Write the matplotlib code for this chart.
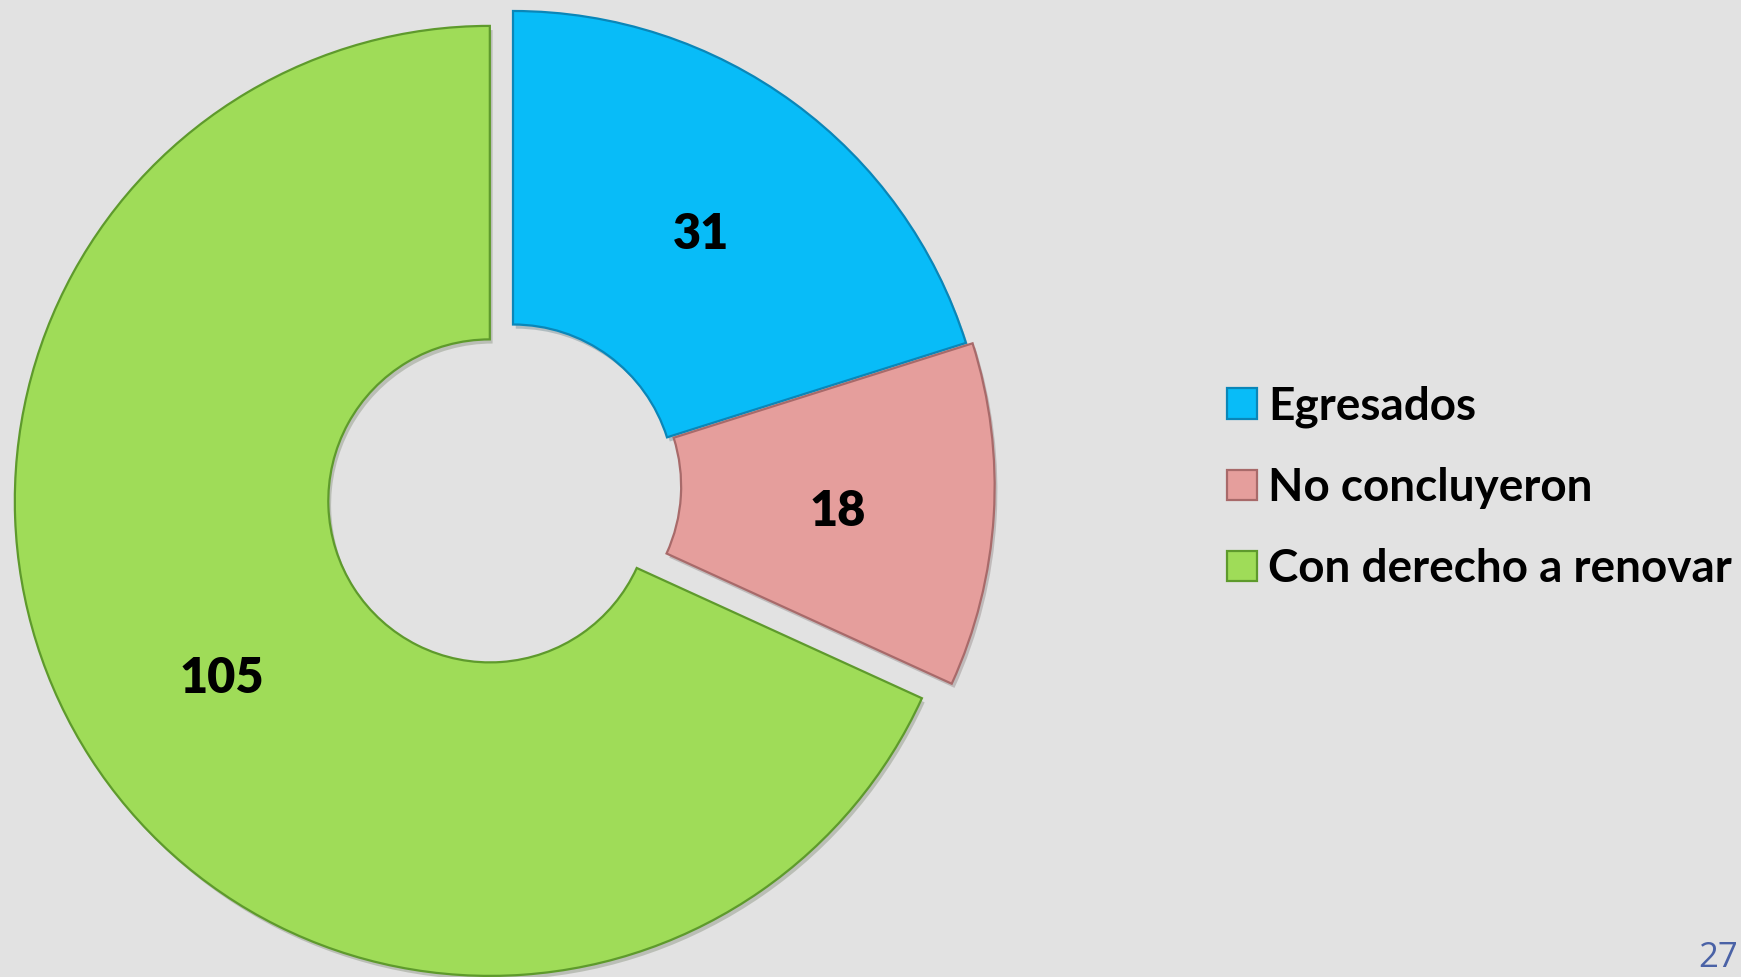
import matplotlib
matplotlib.use("Agg")
import matplotlib.pyplot as plt
import matplotlib.patheffects as pe

plt.rcParams["font.family"] = ["Lato", "DejaVu Sans"]

# data
labels = ["Egresados", "No concluyeron", "Con derecho a renovar"]
values = [31, 18, 105]
colors = ["#08BCF8", "#E59E9C", "#9FDC58"]
edges = ["#0A86B8", "#A86A6A", "#5E9A2C"]
explode = [0.0, 0.014, 0.058]
page_no = "27"

W, H = 1741, 977
fig = plt.figure(figsize=(W / 100, H / 100), dpi=100, facecolor="#E2E2E2")

# pie centre / radius in pixels, axes sized so that 1 data unit == R px
cx, cy, R = 513, 486, 475
L = 1.12
half = R * L
ax = fig.add_axes([(cx - half) / W, (H - cy - half) / H, 2 * half / W, 2 * half / H])

total = sum(values)
wedges, texts, autotexts = ax.pie(
    values, colors=colors, explode=explode, startangle=90, counterclock=False,
    radius=1.0, wedgeprops=dict(width=0.66, linewidth=1.6),
    autopct=lambda p: f"{round(p * total / 100)}", pctdistance=0.67,
    textprops=dict(fontsize=35, fontweight="heavy", color="black"))
for w, ec in zip(wedges, edges):
    w.set_edgecolor(ec)
    w.set_path_effects([pe.SimplePatchShadow(offset=(2, -3), alpha=0.22), pe.Normal()])
for t in autotexts:
    x, y = t.get_position()
    t.set_position((x, y - 0.012))
# pie() resets the limits, so set them afterwards
ax.set_xlim(-L, L); ax.set_ylim(-L, L)
ax.set_aspect("equal"); ax.axis("off")

fs = 33
leg = fig.legend(wedges, labels, loc="center left", bbox_to_anchor=(1227 / W, 1 - 488 / H),
                 frameon=False, prop=dict(weight="bold", size=fs), borderpad=0, borderaxespad=0,
                 handlelength=0.65, handleheight=0.65, handletextpad=0.25, labelspacing=0.85)
for h in leg.legend_handles:
    h.set_path_effects([])

fig.text(1738 / W, 1 - 958 / H, page_no, ha="right", va="center", fontsize=25,
         color="#4A62A6", family=["Open Sans", "DejaVu Sans"])

fig.savefig("out.png", dpi=100, facecolor=fig.get_facecolor())
